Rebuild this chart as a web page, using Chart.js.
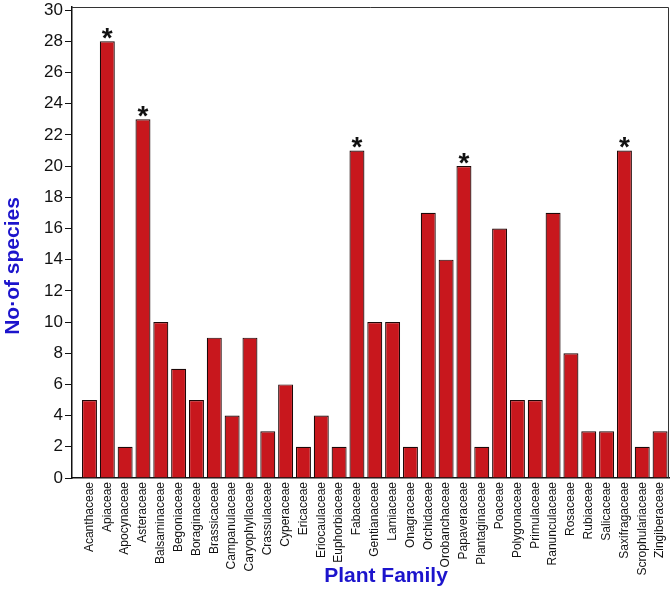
<!DOCTYPE html>
<html>
<head>
<meta charset="utf-8">
<script src="https://cdn.jsdelivr.net/npm/chart.js@4"></script>
<style>
    html, body { margin: 0; padding: 0; background: #fff; }
    #wrap { width: 672px; height: 589px; }
</style>
</head>
<body>
<div id="wrap"><canvas id="chart-plant-family"></canvas></div>
<script>
const families = ['Acanthaceae', 'Apiaceae', 'Apocynaceae', 'Asteraceae', 'Balsaminaceae', 'Begoniaceae',
    'Boraginaceae', 'Brassicaceae', 'Campanulaceae', 'Caryophyllaceae', 'Crassulaceae', 'Cyperaceae',
    'Ericaceae', 'Eriocaulaceae', 'Euphorbiaceae', 'Fabaceae', 'Gentianaceae', 'Lamiaceae', 'Onagraceae',
    'Orchidaceae', 'Orobanchaceae', 'Papaveraceae', 'Plantaginaceae', 'Poaceae', 'Polygonaceae',
    'Primulaceae', 'Ranunculaceae', 'Rosaceae', 'Rubiaceae', 'Salicaceae', 'Saxifragaceae',
    'Scrophulariaceae', 'Zingiberaceae'];
const speciesCount = [5, 28, 2, 23, 10, 7, 5, 9, 4, 9, 3, 6, 2, 4, 2, 21, 10, 10, 2, 17, 14, 20, 2, 16, 5, 5, 17, 8, 3, 3, 21, 2, 3];
const starred = ['Apiaceae', 'Asteraceae', 'Fabaceae', 'Papaveraceae', 'Saxifragaceae'];
const yTicks = [0, 2, 4, 6, 8, 10, 12, 14, 16, 18, 20, 22, 24, 26, 28, 30];

const fontName = '"Liberation Sans", Arial, sans-serif';
const titleBlue = '#1c14cc';

var points = [];
families.forEach((name, index) => {
    points.push({ x: index, y: speciesCount[index] });
});

// frame, asterisks and axis titles
const extras = {
    id: 'extras',
    afterDatasetsDraw(chart) {
        const ctx = chart.ctx;
        const area = chart.chartArea;
        const meta = chart.getDatasetMeta(0);

        ctx.save();
        ctx.strokeStyle = '#333';
        ctx.lineWidth = 1;
        ctx.beginPath();
        ctx.moveTo(area.left, area.top + 0.5);
        ctx.lineTo(area.right - 0.5, area.top + 0.5);
        ctx.lineTo(area.right - 0.5, area.bottom);
        ctx.stroke();

        ctx.fillStyle = '#111';
        ctx.font = 'bold 28px ' + fontName;
        ctx.textAlign = 'center';
        ctx.textBaseline = 'alphabetic';
        starred.forEach(name => {
            const el = meta.data[families.indexOf(name)];
            ctx.fillText('*', el.x, el.y + 6);
        });

        ctx.fillStyle = titleBlue;
        ctx.font = 'bold 21px ' + fontName;
        ctx.textBaseline = 'middle';
        ctx.fillText('Plant Family', 386, 576);
        ctx.translate(13, 266);
        ctx.rotate(-Math.PI / 2);
        ctx.fillText('No\u00b7of species', 0, 0);
        ctx.restore();
    }
};

new Chart($id('chart-plant-family'), {
    type: 'bar',
    data: {
        datasets: [{
            data: points,
            backgroundColor: '#c8171d',
            borderColor: '#1e0808',
            borderWidth: 1.2,
            categoryPercentage: 1,
            barPercentage: 0.84
        }]
    },
    options: {
        responsive: true,
        maintainAspectRatio: false,
        animation: false,
        layout: { padding: { top: 7, right: 3, left: 0, bottom: 0 } },
        plugins: {
            legend: { display: false },
            tooltip: { enabled: false }
        },
        scales: {
            x: {
                type: 'linear',
                offset: false,
                min: -0.98,
                max: 32.5,
                afterFit: scale => {
                    scale.height = 111;
                    scale.paddingLeft = 0;
                    scale.paddingRight = 0;
                },
                afterBuildTicks: scale => {
                    scale.ticks = families.map((name, i) => ({ value: i }));
                },
                grid: { display: false, drawTicks: false },
                border: { display: true, color: '#111', width: 1.5 },
                ticks: {
                    autoSkip: false,
                    minRotation: 90,
                    maxRotation: 90,
                    padding: 4,
                    color: '#111',
                    font: { family: fontName, size: 12 },
                    callback: value => families[value]
                }
            },
            y: {
                min: 0,
                max: 30.2,
                afterFit: scale => {
                    scale.width = 72;
                    scale.paddingTop = 0;
                    scale.paddingBottom = 0;
                },
                afterBuildTicks: scale => {
                    scale.ticks = yTicks.map(v => ({ value: v }));
                },
                grid: { drawOnChartArea: false, drawTicks: true, tickLength: 7, color: '#111', lineWidth: 1 },
                border: { display: true, color: '#111', width: 1.5 },
                ticks: {
                    padding: 2,
                    color: '#111',
                    font: { family: fontName, size: 17 }
                }
            }
        }
    },
    plugins: [extras]
});

function $id(id) {
    return document.getElementById(id);
}
</script>
</body>
</html>
